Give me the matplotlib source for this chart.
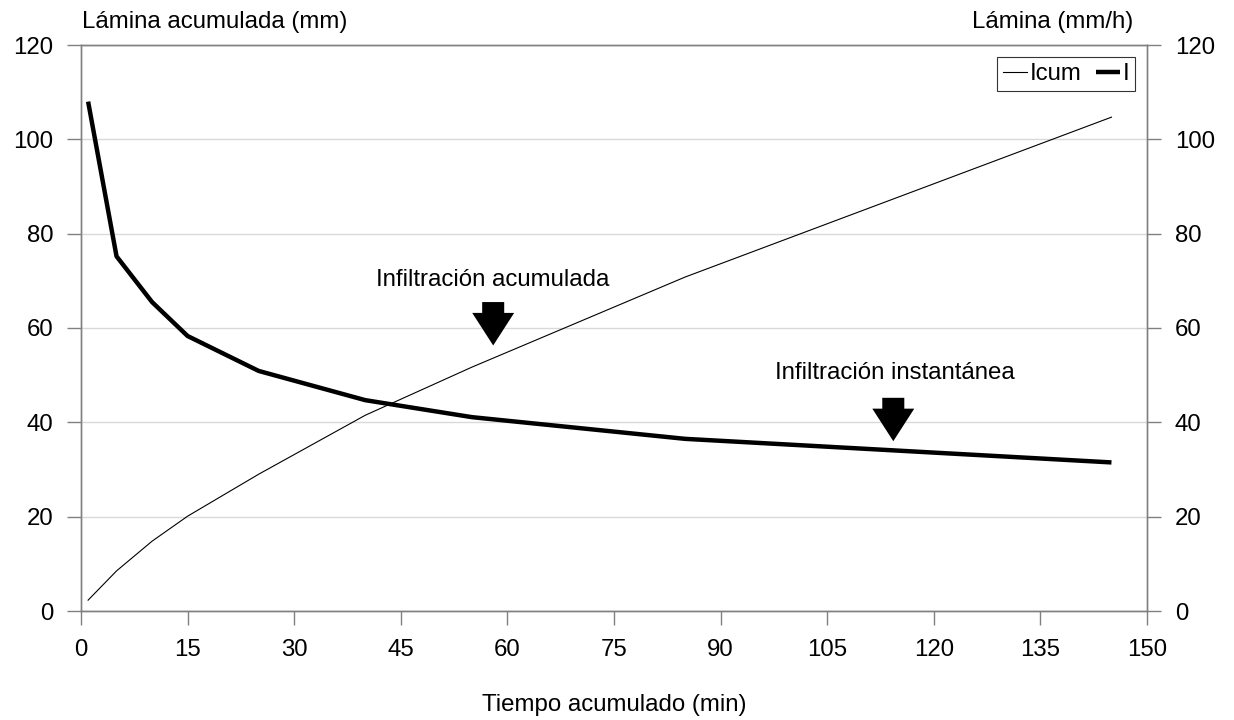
import matplotlib
matplotlib.use("Agg")
import matplotlib.pyplot as plt
from matplotlib.patches import FancyArrow

plt.rcParams['font.family'] = ['Liberation Sans', 'DejaVu Sans']

tiempo = [1, 5, 10, 15, 25, 40, 55, 85, 145]
icum = [2.3, 8.5, 14.8, 20.1, 29.0, 41.5, 51.7, 70.8, 104.7]
inst = [108.0, 75.2, 65.5, 58.3, 50.9, 44.7, 41.1, 36.5, 31.5]
xticks = list(range(0, 151, 15))
yticks = list(range(0, 121, 20))

fig = plt.figure(figsize=(12.34, 7.2), dpi=100)
ax = fig.add_axes([81/1234, 1-611/720, (1147-81)/1234, (611-45)/720])
ax2 = ax.twinx()

ax.plot(tiempo, icum, color='black', lw=0.8, label='Icum')
ax.plot(tiempo, inst, color='black', lw=3.2, label='I', solid_capstyle='butt')

ax.set_xlim(0, 150)
ax.set_ylim(0, 120)
ax2.set_ylim(0, 120)
ax.set_xticks(xticks)
ax.set_yticks(yticks)
ax2.set_yticks(yticks)
ax.grid(axis='y', color='#d9d9d9', lw=1.0)
ax.set_axisbelow(True)

gray = '#808080'
for a in (ax, ax2):
    for s in a.spines.values():
        s.set_color(gray)
        s.set_linewidth(1.0)
fsz = 17.3
ax.tick_params(axis='both', direction='out', length=10, width=1, color=gray,
               labelsize=fsz, pad=10)
ax2.tick_params(axis='y', direction='out', length=10, width=1, color=gray,
                labelsize=fsz, pad=10)

# annotations with block arrows
ax.text(58, 70.2, 'Infiltración acumulada', ha='center', va='center', fontsize=fsz)
ax.text(114.5, 50.5, 'Infiltración instantánea', ha='center', va='center', fontsize=fsz)
for xc, ytop in [(58.0, 65.5), (114.3, 45.2)]:
    ax.add_patch(FancyArrow(xc, ytop, 0, -9.2, width=3.1, head_width=5.9,
                            head_length=6.9, length_includes_head=True,
                            color='black', lw=0))

leg = ax.legend(loc='upper right', bbox_to_anchor=(0.9887, 0.9788), ncol=2,
                fontsize=fsz, frameon=True, fancybox=False, handlelength=1.0,
                handletextpad=0.1, columnspacing=0.6, borderpad=0.25,
                borderaxespad=0)
leg.get_frame().set_edgecolor('black')
leg.get_frame().set_linewidth(0.8)

fig.text(82/1234, 1-22/720, 'Lámina acumulada (mm)', ha='left', va='center', fontsize=fsz)
fig.text(1133/1234, 1-22/720, 'Lámina (mm/h)', ha='right', va='center', fontsize=fsz)
fig.text(614/1234, 1-705/720, 'Tiempo acumulado (min)', ha='center', va='center', fontsize=fsz)

fig.savefig('out.png', dpi=100)
